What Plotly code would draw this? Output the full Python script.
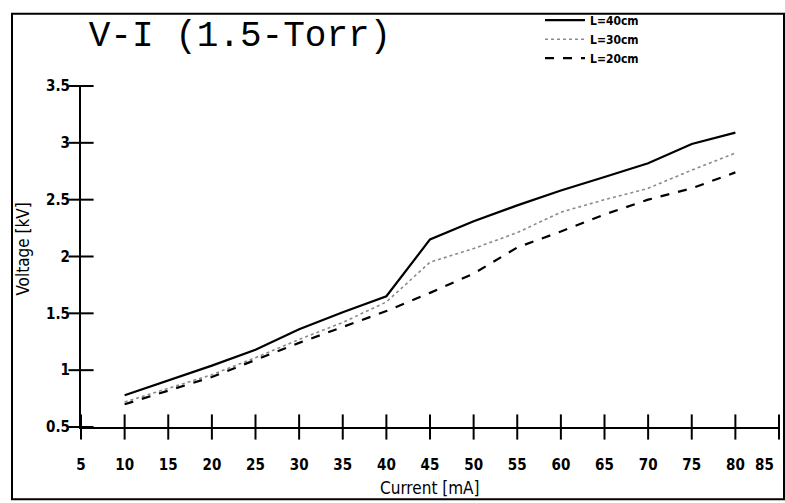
import plotly.graph_objects as go

current = [10, 15, 20, 25, 30, 35, 40, 45, 50, 55, 60, 65, 70, 75, 80]
v_40cm = [0.78, 0.91, 1.04, 1.18, 1.36, 1.51, 1.65, 2.15, 2.31, 2.45, 2.58, 2.70, 2.82, 2.99, 3.09]
v_30cm = [0.72, 0.84, 0.96, 1.11, 1.27, 1.42, 1.60, 1.95, 2.07, 2.21, 2.39, 2.50, 2.60, 2.76, 2.91]
v_20cm = [0.70, 0.82, 0.94, 1.09, 1.24, 1.38, 1.52, 1.68, 1.85, 2.08, 2.22, 2.37, 2.50, 2.60, 2.74]
series_names = ["L=40cm", "L=30cm", "L=20cm"]
x_ticks = list(range(5, 90, 5))
x_tick_labels = [str(v) for v in x_ticks]
y_ticks = [0.5, 1, 1.5, 2, 2.5, 3, 3.5]
y_tick_labels = ["0.5", "1", "1.5", "2", "2.5", "3", "3.5"]

xr = [x_ticks[0], x_ticks[-1]]
yr = [y_ticks[0], y_ticks[-1]]

LBL = dict(family="DejaVu Sans Condensed", size=15, color="black", weight="bold")
# the last x label sits left of its tick (at the page edge), drawn as an annotation
x_text = x_tick_labels[:-1] + [""]

fig = go.Figure()
fig.add_trace(go.Scatter(x=current, y=v_40cm, name=series_names[0], mode="lines",
                         line=dict(color="black", width=2.2)))
fig.add_trace(go.Scatter(x=current, y=v_30cm, name=series_names[1], mode="lines",
                         line=dict(color="#8a8a8a", width=1.6, dash="dot")))
fig.add_trace(go.Scatter(x=current, y=v_20cm, name=series_names[2], mode="lines",
                         line=dict(color="black", width=2.2, dash="dash")))
# crossing tick marks drawn on the axes through the data scales
fig.add_trace(go.Scatter(x=x_ticks, y=[yr[0]] * len(x_ticks), mode="markers",
                         marker=dict(symbol="line-ns", size=18,
                                     line=dict(color="black", width=2)),
                         cliponaxis=False, showlegend=False, hoverinfo="skip"))
fig.add_trace(go.Scatter(x=[xr[0]] * len(y_ticks), y=y_ticks, mode="markers",
                         marker=dict(symbol="line-ew", size=18,
                                     line=dict(color="black", width=2)),
                         cliponaxis=False, showlegend=False, hoverinfo="skip"))

common = dict(showgrid=False, zeroline=False, showline=True, linecolor="black",
              linewidth=2, ticks="", automargin=False)
fig.update_layout(
    width=785, height=503,
    margin=dict(l=81, r=6, t=83, b=76),
    paper_bgcolor="white", plot_bgcolor="white",
    showlegend=True,
    title=dict(text="V-I (1.5-Torr)", x=240 / 785, xanchor="center",
               y=1 - 33 / 503, yanchor="middle",
               font=dict(family="Liberation Mono", size=36, color="black")),
    xaxis=dict(range=xr, tickmode="array", tickvals=x_ticks, ticktext=x_text,
               tickfont=LBL, ticklabelstandoff=23, **common),
    yaxis=dict(range=yr, tickmode="array", tickvals=y_ticks, ticktext=y_tick_labels,
               tickfont=LBL, ticklabelstandoff=6, **common),
    legend=dict(x=(540 - 81) / 698, y=1 + (83 - 2) / 344, xanchor="left", yanchor="top",
                bgcolor="rgba(0,0,0,0)", tracegroupgap=0, itemwidth=40,
                font=dict(family="DejaVu Sans Condensed", size=12, color="black", weight="bold")),
    annotations=[
        dict(text=x_tick_labels[-1], xref="x", yref="paper", x=x_ticks[-1], y=0,
             xanchor="right", yanchor="middle", xshift=-3, yshift=-38, showarrow=False,
             font=LBL),
        dict(text="Current [mA]", xref="paper", yref="paper",
             x=(430 - 81) / 698, y=-(489 - 427) / 344, xanchor="center", yanchor="middle",
             showarrow=False,
             font=dict(family="DejaVu Sans Condensed", size=17, color="black")),
        dict(text="Voltage [kV]", xref="paper", yref="paper", textangle=-90,
             x=(23 - 81) / 698, y=(427 - 248) / 344, xanchor="center", yanchor="middle",
             showarrow=False,
             font=dict(family="DejaVu Sans Condensed", size=17, color="black")),
    ],
)
fig.add_shape(type="rect", xref="paper", yref="paper",
              x0=(12 - 81) / 698, x1=(784 - 81) / 698,
              y0=-(500 - 427) / 344, y1=1 + (83 - 10) / 344,
              line=dict(color="black", width=2), layer="below")

fig.write_html("out.html")
